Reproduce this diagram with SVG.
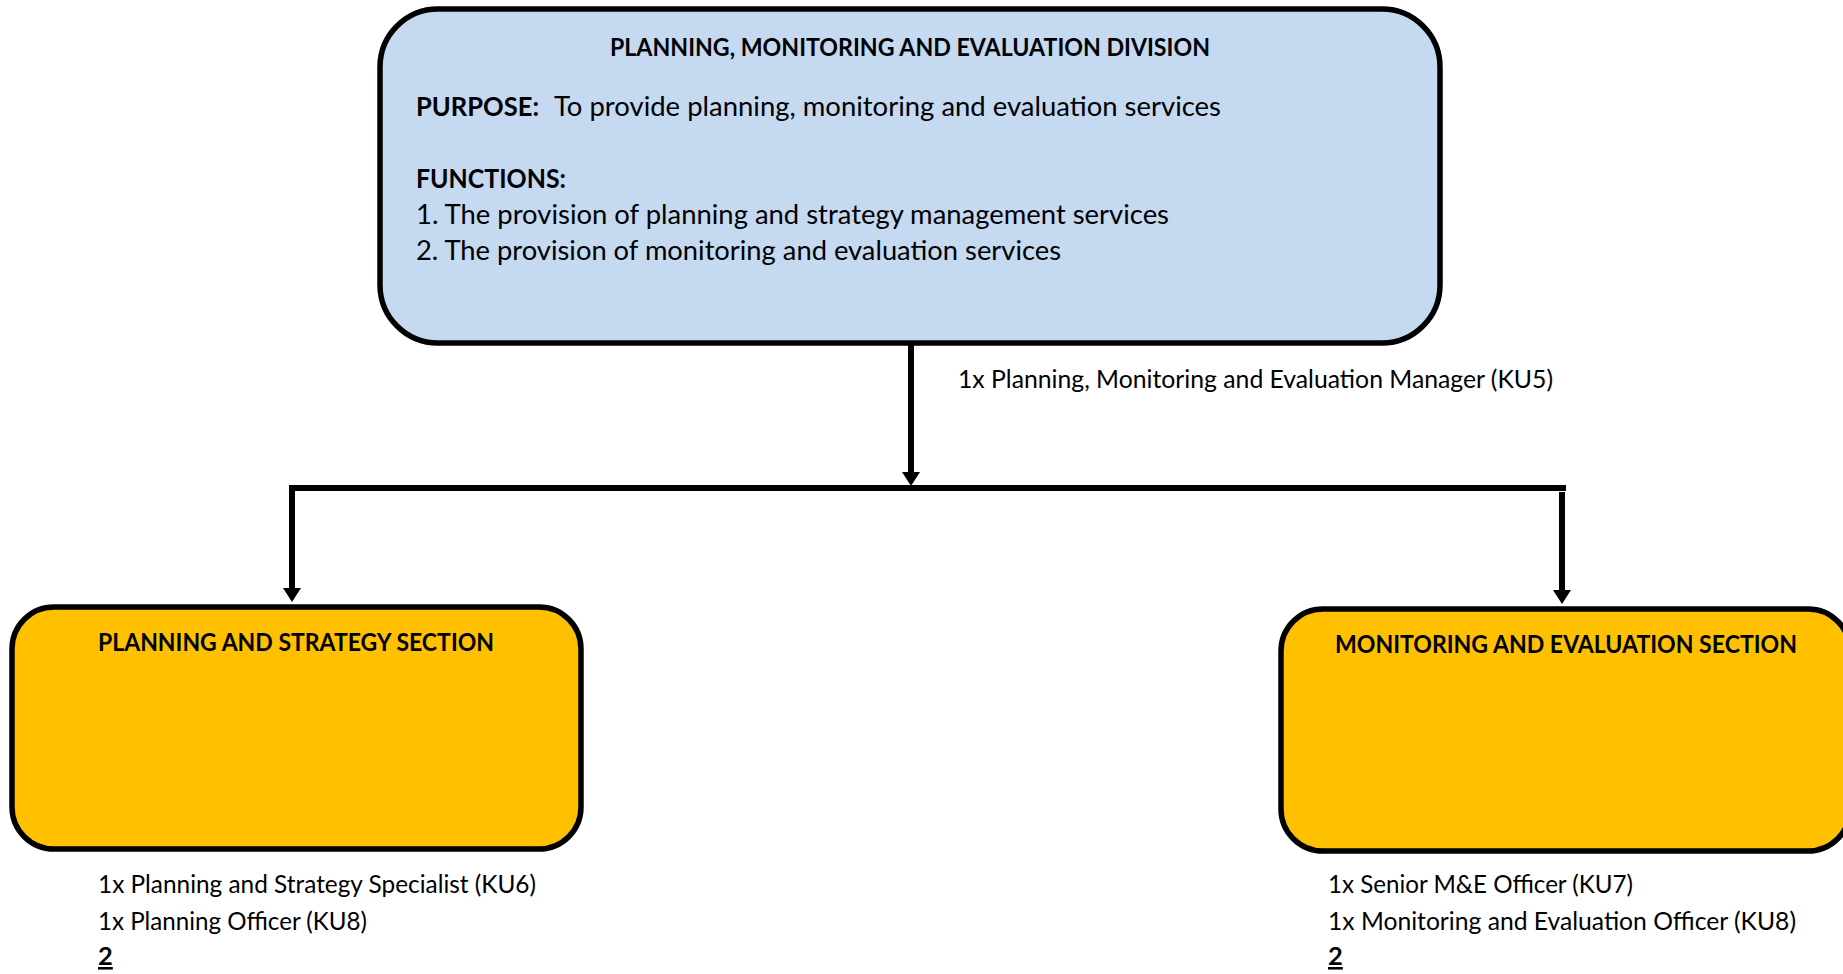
<svg xmlns="http://www.w3.org/2000/svg" width="1843" height="974" viewBox="0 0 1843 974">
  <style>
    text { font-family: Lato, "Liberation Sans", Arial, sans-serif; fill: #000; }
    .title { font-size: 24px; font-weight: bold; }
    .body { font-size: 27px; }
    .bodyb { font-size: 27px; font-weight: bold; }
    .small { font-size: 25.5px; }
    .smallb { font-size: 25.5px; font-weight: bold; text-decoration: underline; }
    .division { fill: #C5D9F1; stroke: #000; stroke-width: 5.5; }
    .section { fill: #FFC000; stroke: #000; stroke-width: 5.5; }
    .conn { fill: none; stroke: #000; stroke-width: 6; stroke-linejoin: miter; }
  </style>
  <defs>
    <marker id="arrow" markerUnits="userSpaceOnUse" markerWidth="14" markerHeight="18" viewBox="0 0 14 18" refX="4" refY="9" orient="auto">
      <path d="M0,0 L14,9 L0,18 z" fill="#000"/>
    </marker>
  </defs>
  <rect width="1843" height="974" fill="#fff"/>

  <g id="connectors">
    <line class="conn" x1="911" y1="343" x2="911" y2="476" marker-end="url(#arrow)"/>
    <path class="conn" d="M1566,488 L292,488 L292,592" marker-end="url(#arrow)"/>
    <line class="conn" x1="1562" y1="492" x2="1562" y2="594" marker-end="url(#arrow)"/>
  </g>

  <g id="node-division">
    <rect class="division" x="380" y="9" width="1060" height="334" rx="58" ry="58"/>
    <text class="title" x="610" y="56" textLength="600" lengthAdjust="spacingAndGlyphs">PLANNING, MONITORING AND EVALUATION DIVISION</text>
    <text class="bodyb" x="416" y="116" textLength="123" lengthAdjust="spacingAndGlyphs">PURPOSE:</text>
    <text class="body" x="554" y="116" textLength="667" lengthAdjust="spacingAndGlyphs">To provide planning, monitoring and evaluation services</text>
    <text class="bodyb" x="416" y="188" textLength="150" lengthAdjust="spacingAndGlyphs">FUNCTIONS:</text>
    <text class="body" x="416" y="224" textLength="753" lengthAdjust="spacingAndGlyphs">1. The provision of planning and strategy management services</text>
    <text class="body" x="416" y="260" textLength="645" lengthAdjust="spacingAndGlyphs">2. The provision of monitoring and evaluation services</text>
  </g>

  <g id="label-manager">
    <text class="small" x="958" y="388" textLength="595" lengthAdjust="spacingAndGlyphs">1x Planning, Monitoring and Evaluation Manager (KU5)</text>
  </g>

  <g id="node-planning-strategy">
    <rect class="section" x="12" y="607" width="569" height="242" rx="42" ry="42"/>
    <text class="title" x="98" y="651" textLength="396" lengthAdjust="spacingAndGlyphs">PLANNING AND STRATEGY SECTION</text>
    <text class="small" x="98" y="893" textLength="438" lengthAdjust="spacingAndGlyphs">1x Planning and Strategy Specialist (KU6)</text>
    <text class="small" x="98" y="930" textLength="269" lengthAdjust="spacingAndGlyphs">1x Planning Officer (KU8)</text>
    <text class="smallb" x="98" y="965">2</text>
  </g>

  <g id="node-monitoring-evaluation">
    <rect class="section" x="1281" y="609" width="569" height="242" rx="42" ry="42"/>
    <text class="title" x="1335" y="653" textLength="462" lengthAdjust="spacingAndGlyphs">MONITORING AND EVALUATION SECTION</text>
    <text class="small" x="1328" y="893" textLength="305" lengthAdjust="spacingAndGlyphs">1x Senior M&amp;E Officer (KU7)</text>
    <text class="small" x="1328" y="930" textLength="468" lengthAdjust="spacingAndGlyphs">1x Monitoring and Evaluation Officer (KU8)</text>
    <text class="smallb" x="1328" y="965">2</text>
  </g>
</svg>
